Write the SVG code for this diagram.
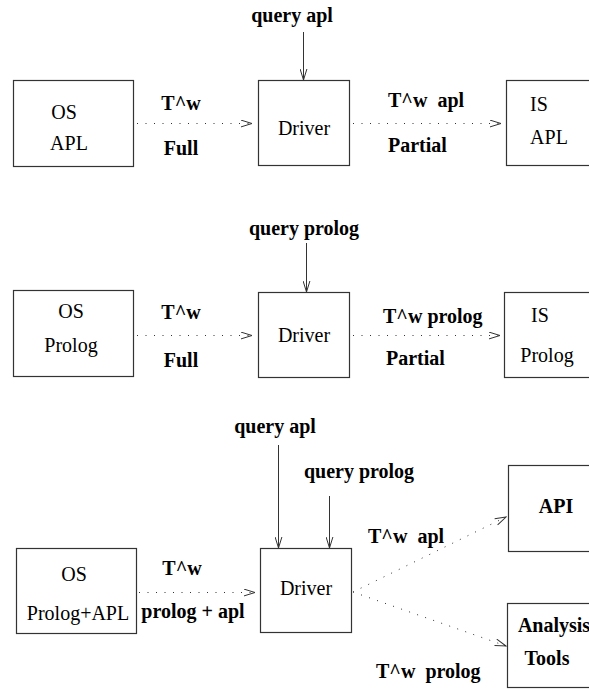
<svg xmlns="http://www.w3.org/2000/svg" width="589" height="689" viewBox="0 0 589 689" font-family="Liberation Serif, serif" font-size="20">
  <style>
    .box { fill: #ffffff; stroke: #333333; stroke-width: 1.2; }
    text { font-family: "Liberation Serif", serif; font-size: 20px; fill: #000000; }
    .b { font-weight: bold; white-space: pre; }
    .solid { stroke: #333333; stroke-width: 1; fill: none; }
    .dot { stroke: #333333; stroke-width: 1; fill: none; stroke-dasharray: 1 7.5; }
    .head { stroke: #333333; stroke-width: 1; fill: none; }
  </style>
  <defs>
    <marker id="vee" viewBox="-12 -4 13 8" refX="0" refY="0" markerWidth="13" markerHeight="8" markerUnits="userSpaceOnUse" orient="auto">
      <path class="head" d="M-11,-3.4 L0,0 L-11,3.4"/>
    </marker>
  </defs>

  <rect width="589" height="689" fill="#ffffff"/>

  <!-- row 1: APL -->
  <g id="os-apl">
    <rect class="box" x="13.5" y="80.5" width="120" height="86"/>
    <text x="64" y="119" text-anchor="middle">OS</text>
    <text x="69" y="150" text-anchor="middle">APL</text>
  </g>
  <g id="driver-apl">
    <rect class="box" x="258.5" y="80.5" width="91" height="85"/>
    <text x="304" y="135" text-anchor="middle">Driver</text>
  </g>
  <g id="is-apl">
    <rect class="box" x="506.5" y="80.5" width="100" height="85"/>
    <text x="539" y="111" text-anchor="middle">IS</text>
    <text x="549" y="144" text-anchor="middle">APL</text>
  </g>

  <!-- row 2: Prolog -->
  <g id="os-prolog">
    <rect class="box" x="13.5" y="290.5" width="120" height="86"/>
    <text x="71" y="318" text-anchor="middle">OS</text>
    <text x="71" y="352" text-anchor="middle">Prolog</text>
  </g>
  <g id="driver-prolog">
    <rect class="box" x="258.5" y="292.5" width="91" height="85"/>
    <text x="304" y="342" text-anchor="middle">Driver</text>
  </g>
  <g id="is-prolog">
    <rect class="box" x="504.5" y="292.5" width="100" height="85"/>
    <text x="540" y="322" text-anchor="middle">IS</text>
    <text x="547" y="362" text-anchor="middle">Prolog</text>
  </g>

  <!-- row 3: combined -->
  <g id="os-both">
    <rect class="box" x="16.5" y="548.5" width="120" height="85"/>
    <text x="74" y="581" text-anchor="middle">OS</text>
    <text x="78" y="620" text-anchor="middle">Prolog+APL</text>
  </g>
  <g id="driver-both">
    <rect class="box" x="260.5" y="548.5" width="91" height="84"/>
    <text x="306" y="595" text-anchor="middle">Driver</text>
  </g>
  <g id="api">
    <rect class="box" x="508.5" y="465.5" width="100" height="86"/>
    <text class="b" x="556" y="513" text-anchor="middle">API</text>
  </g>
  <g id="analysis-tools">
    <rect class="box" x="507.5" y="603.5" width="100" height="84"/>
    <text class="b" x="554" y="632" text-anchor="middle">Analysis</text>
    <text class="b" x="547" y="665" text-anchor="middle">Tools</text>
  </g>

  <!-- connectors -->
  <g id="connectors">
    <line class="solid" x1="303.5" y1="32" x2="303.5" y2="80" marker-end="url(#vee)"/>
    <line class="dot" x1="137" y1="123.5" x2="252" y2="123.5" marker-end="url(#vee)"/>
    <line class="dot" x1="353" y1="123.5" x2="501" y2="123.5" marker-end="url(#vee)"/>

    <line class="solid" x1="306.5" y1="243" x2="306.5" y2="292" marker-end="url(#vee)"/>
    <line class="dot" x1="137" y1="335.5" x2="252" y2="335.5" marker-end="url(#vee)"/>
    <line class="dot" x1="353" y1="335.5" x2="500" y2="335.5" marker-end="url(#vee)"/>

    <line class="solid" x1="278.5" y1="445" x2="278.5" y2="548" marker-end="url(#vee)"/>
    <line class="solid" x1="329.5" y1="496" x2="329.5" y2="548" marker-end="url(#vee)"/>
    <line class="dot" x1="139" y1="592.5" x2="255" y2="592.5" marker-end="url(#vee)"/>
    <line class="dot" x1="353" y1="592" x2="506" y2="517" marker-end="url(#vee)"/>
    <line class="dot" x1="353" y1="592" x2="506" y2="646" marker-end="url(#vee)"/>
  </g>

  <!-- edge labels -->
  <g id="labels">
    <text class="b" x="292" y="22" text-anchor="middle">query apl</text>
    <text class="b" x="181" y="110" text-anchor="middle">T^w</text>
    <text class="b" x="181" y="155" text-anchor="middle">Full</text>
    <text class="b" x="388" y="107">T^w  apl</text>
    <text class="b" x="388" y="152">Partial</text>

    <text class="b" x="304" y="235" text-anchor="middle">query prolog</text>
    <text class="b" x="181" y="319" text-anchor="middle">T^w</text>
    <text class="b" x="181" y="367" text-anchor="middle">Full</text>
    <text class="b" x="383" y="323">T^w prolog</text>
    <text class="b" x="386" y="365">Partial</text>

    <text class="b" x="275" y="433" text-anchor="middle">query apl</text>
    <text class="b" x="359" y="478" text-anchor="middle">query prolog</text>
    <text class="b" x="182" y="575" text-anchor="middle">T^w</text>
    <text class="b" x="193" y="618" text-anchor="middle">prolog + apl</text>
    <text class="b" x="368" y="543">T^w  apl</text>
    <text class="b" x="376" y="678">T^w  prolog</text>
  </g>
</svg>
